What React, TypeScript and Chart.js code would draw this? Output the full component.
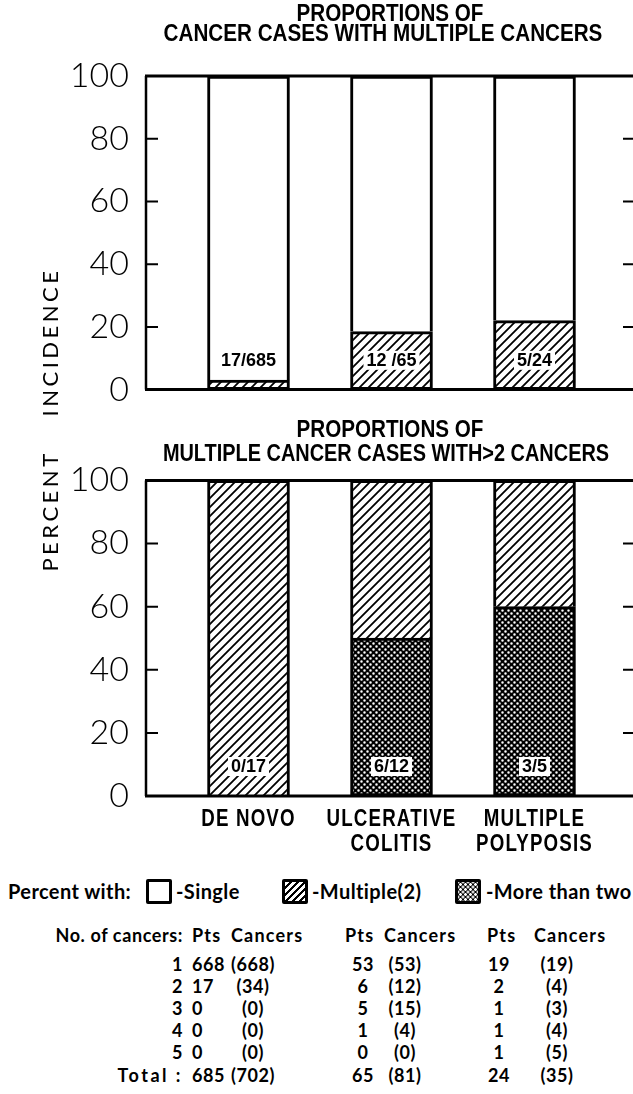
import React, { useEffect, useRef } from "react";
import { Chart, registerables } from "chart.js";

Chart.register(...registerables);

// ---------------- data ----------------
const categories: string[][] = [["DE NOVO"], ["ULCERATIVE", "COLITIS"], ["MULTIPLE", "POLYPOSIS"]];
const yTicks: number[] = [0, 20, 40, 60, 80, 100];

// top panel: % of cancer cases with multiple cancers
const topMultiplePct: number[] = [3, 18.5, 22];
const topSinglePct: number[] = [97, 81.5, 78];
const topRatioLabels: string[] = ["17/685", "12 /65", "5/24"];

// bottom panel: % of multiple cancer cases with > 2 cancers
const bottomMoreThanTwoPct: number[] = [0, 50, 60];
const bottomMultiple2Pct: number[] = [100, 50, 40];
const bottomRatioLabels: string[] = ["0/17", "6/12", "3/5"];

// table
const cancerCounts: string[] = ["1", "2", "3", "4", "5"];
const deNovoPts: number[] = [668, 17, 0, 0, 0];
const deNovoCancers: number[] = [668, 34, 0, 0, 0];
const ucPts: number[] = [53, 6, 5, 1, 0];
const ucCancers: number[] = [53, 12, 15, 4, 0];
const mpPts: number[] = [19, 2, 1, 1, 1];
const mpCancers: number[] = [19, 4, 3, 4, 5];
const totalPts: number[] = [685, 65, 24];
const totalCancers: number[] = [702, 81, 35];

// ---------------- styling ----------------
const SANS = "'Liberation Sans', Arial, sans-serif";
const ROUND = "Lato, 'Noto Sans', sans-serif";

function hatchPattern(ctx: CanvasRenderingContext2D): CanvasPattern {
  const n = 9;
  const c = document.createElement("canvas");
  c.width = n;
  c.height = n;
  const g = c.getContext("2d")!;
  g.fillStyle = "#fff";
  g.fillRect(0, 0, n, n);
  g.strokeStyle = "#000";
  g.lineWidth = 1.8;
  g.beginPath();
  g.moveTo(-2, n + 2);
  g.lineTo(n + 2, -2);
  g.moveTo(-n - 2, n + 2);
  g.lineTo(2, -2);
  g.moveTo(n - 2, n + 2);
  g.lineTo(2 * n + 2, -2);
  g.stroke();
  return ctx.createPattern(c, "repeat")!;
}

function dotPattern(ctx: CanvasRenderingContext2D): CanvasPattern {
  const c = document.createElement("canvas");
  c.width = 6;
  c.height = 6;
  const g = c.getContext("2d")!;
  g.fillStyle = "#000";
  g.fillRect(0, 0, 6, 6);
  g.fillStyle = "#fff";
  g.beginPath();
  g.arc(1.5, 1.5, 1.25, 0, Math.PI * 2);
  g.arc(4.5, 4.5, 1.25, 0, Math.PI * 2);
  g.fill();
  return ctx.createPattern(c, "repeat")!;
}

const framePlugin = {
  id: "frame",
  afterDatasetsDraw(chart: any) {
    const { ctx, chartArea } = chart;
    const y = chart.scales.y;
    const left = chartArea.left - 31;
    const right = chart.width;
    const yTop = y.getPixelForValue(100);
    const yBot = y.getPixelForValue(0);
    ctx.save();
    ctx.strokeStyle = "#000";
    ctx.lineCap = "butt";
    ctx.lineWidth = 3;
    ctx.beginPath();
    ctx.moveTo(left - 1, yTop);
    ctx.lineTo(right, yTop);
    ctx.moveTo(left - 1, yBot);
    ctx.lineTo(right, yBot);
    ctx.stroke();
    ctx.lineWidth = 2.5;
    ctx.beginPath();
    ctx.moveTo(left, yTop);
    ctx.lineTo(left, yBot);
    ctx.stroke();
    ctx.lineWidth = 2;
    ctx.beginPath();
    for (const v of yTicks) {
      if (v === 0 || v === 100) continue;
      const py = y.getPixelForValue(v);
      ctx.moveTo(left, py);
      ctx.lineTo(left + 12, py);
      ctx.moveTo(right - 10, py);
      ctx.lineTo(right, py);
    }
    ctx.stroke();
    ctx.restore();
  },
};

// category labels under the bottom panel, placed by the x scale, drawn condensed
function xLabelPlugin(show: boolean) {
  return {
    id: "xlabels",
    afterDraw(chart: any) {
      if (!show) return;
      const xs = chart.scales.x;
      const { ctx, chartArea } = chart;
      ctx.save();
      ctx.font = `bold 24px ${SANS}`;
      (ctx as any).letterSpacing = "1.5px";
      ctx.textAlign = "center";
      ctx.textBaseline = "middle";
      ctx.fillStyle = "#000";
      categories.forEach((lines, i) => {
        const px = xs.getPixelForTick(i);
        lines.forEach((t, k) => {
          ctx.save();
          ctx.translate(px, chartArea.bottom + 23 + k * 25);
          ctx.scale(0.78, 1);
          ctx.fillText(t, 0, 0);
          ctx.restore();
        });
      });
      ctx.restore();
    },
  };
}

function ratioPlugin(labels: string[], at: number) {
  return {
    id: "ratios",
    afterDatasetsDraw(chart: any) {
      const { ctx } = chart;
      const meta = chart.getDatasetMeta(0);
      const py = chart.scales.y.getPixelForValue(at);
      ctx.save();
      ctx.font = `bold 18px ${SANS}`;
      ctx.textAlign = "center";
      ctx.textBaseline = "middle";
      labels.forEach((t, i) => {
        const px = meta.data[i].x;
        const w = ctx.measureText(t).width;
        ctx.fillStyle = "#fff";
        ctx.fillRect(px - w / 2 - 3, py - 9, w + 6, 19);
        ctx.fillStyle = "#000";
        ctx.fillText(t, px, py + 1);
      });
      ctx.restore();
    },
  };
}

function makeChart(
  canvas: HTMLCanvasElement,
  datasets: any[],
  labels: string[],
  showX: boolean,
  padTop: number,
  xHeight: number
) {
  return new Chart(canvas, {
    type: "bar",
    data: { labels: categories as any, datasets },
    options: {
      animation: false,
      responsive: false,
      maintainAspectRatio: false,
      devicePixelRatio: 1,
      layout: { autoPadding: false, padding: { top: padTop, right: 27, bottom: 0, left: 0 } },
      plugins: { legend: { display: false }, tooltip: { enabled: false }, title: { display: false } },
      scales: {
        x: {
          stacked: true,
          display: true,
          grid: { display: false },
          border: { display: false },
          ticks: { display: false },
          afterFit: (s: any) => {
            s.height = xHeight;
          },
        },
        y: {
          stacked: true,
          min: 0,
          max: 100,
          grid: { display: false },
          border: { display: false },
          afterBuildTicks: (s: any) => {
            s.ticks = yTicks.map((v) => ({ value: v }));
          },
          ticks: {
            color: "#000",
            padding: 40,
            font: { family: ROUND, size: 34, weight: "300" },
          },
          afterFit: (s: any) => {
            s.width = 177;
          },
        },
      },
    } as any,
    plugins: [framePlugin, ratioPlugin(labels, 9.5), xLabelPlugin(showX)],
  });
}

const barBase = {
  borderColor: "#000",
  barThickness: 82,
};

type TxtProps = {
  x: number;
  y: number;
  children: React.ReactNode;
  align?: "left" | "center" | "right";
  size: number;
  family: string;
  weight?: number | string;
  ls?: number;
  rotate?: boolean;
  sx?: number;
};

function Txt({ x, y, children, align = "left", size, family, weight = "normal", ls = 0, rotate = false, sx = 1 }: TxtProps) {
  const tx = align === "center" ? "-50%" : align === "right" ? "-100%" : "0";
  return (
    <div
      style={{
        position: "absolute",
        left: x,
        top: y,
        transform: rotate ? "translate(-50%,-50%) rotate(-90deg)" : `translate(${tx},-50%) scaleX(${sx})`,
        fontSize: size,
        lineHeight: `${size}px`,
        fontFamily: family,
        fontWeight: weight as any,
        letterSpacing: ls,
        whiteSpace: "pre",
        color: "#000",
      }}
    >
      {children}
    </div>
  );
}

const boxStyle: React.CSSProperties = {
  position: "absolute",
  top: 879,
  width: 26,
  height: 25,
  border: "3px solid #000",
  boxSizing: "border-box",
  borderRadius: 2,
  background: "#fff",
};

export default function App() {
  const topRef = useRef<HTMLCanvasElement>(null);
  const botRef = useRef<HTMLCanvasElement>(null);

  useEffect(() => {
    const tc = topRef.current!;
    const bc = botRef.current!;
    const tctx = tc.getContext("2d")!;
    const bctx = bc.getContext("2d")!;
    const top = makeChart(
      tc,
      [
        { ...barBase, label: "Multiple (2)", data: topMultiplePct, backgroundColor: hatchPattern(tctx), borderWidth: 3, borderSkipped: false },
        { ...barBase, label: "Single", data: topSinglePct, backgroundColor: "#fff", borderWidth: 3, borderSkipped: "start" },
      ],
      topRatioLabels,
      false,
      76,
      30
    );
    const bot = makeChart(
      bc,
      [
        { ...barBase, label: "More than two", data: bottomMoreThanTwoPct, backgroundColor: dotPattern(bctx), borderWidth: 3, borderSkipped: false },
        { ...barBase, label: "Multiple (2)", data: bottomMultiple2Pct, backgroundColor: hatchPattern(bctx), borderWidth: 3, borderSkipped: "start" },
      ],
      bottomRatioLabels,
      true,
      60,
      74
    );
    return () => {
      top.destroy();
      bot.destroy();
    };
  }, []);

  const tableRows = cancerCounts.map((n, i) => ({
    n,
    y: 964 + i * 22,
    cells: [deNovoPts[i], deNovoCancers[i], ucPts[i], ucCancers[i], mpPts[i], mpCancers[i]],
  }));
  const colX = [192, 253, 363, 405, 499, 557];
  const tf = { size: 18, family: ROUND, weight: 700, ls: 0.6 };
  const hf = { ...tf, ls: 1.2 };
  const titleF = { size: 24, family: SANS, weight: "bold", sx: 0.86, align: "center" as const };
  const lf = { size: 20, family: ROUND, weight: 700, ls: 0.4 };

  return (
    <div style={{ position: "absolute", left: 0, top: 0, width: 633, height: 1094, background: "#fff", overflow: "hidden" }}>
      <canvas ref={topRef} width={633} height={450} style={{ position: "absolute", left: 0, top: 0, display: "block", width: 633, height: 450 }} />
      <canvas ref={botRef} width={633} height={450} style={{ position: "absolute", left: 0, top: 420, display: "block", width: 633, height: 450 }} />

      <Txt x={390} y={13} {...titleF}>PROPORTIONS OF</Txt>
      <Txt x={383} y={33} {...titleF}>CANCER CASES WITH MULTIPLE CANCERS</Txt>
      <Txt x={390} y={429} {...titleF}>PROPORTIONS OF</Txt>
      <Txt x={386} y={453} {...titleF} sx={0.83}>MULTIPLE CANCER CASES WITH{">"}2 CANCERS</Txt>

      <Txt x={50} y={342} size={22} family={ROUND} ls={3.5} rotate>INCIDENCE</Txt>
      <Txt x={50} y={511} size={22} family={ROUND} ls={3.5} rotate>PERCENT</Txt>

      {/* legend */}
      <Txt x={8} y={891} {...lf}>Percent with:</Txt>
      <div style={{ ...boxStyle, left: 146 }} />
      <Txt x={176} y={891} {...lf}>-Single</Txt>
      <div
        style={{
          ...boxStyle,
          left: 282,
          background: "repeating-linear-gradient(135deg, #fff 0px, #fff 3px, #000 3px, #000 5px)",
        }}
      />
      <Txt x={312} y={891} {...lf}>-Multiple(2)</Txt>
      <div
        style={{
          ...boxStyle,
          left: 455,
          backgroundColor: "#000",
          backgroundImage:
            "radial-gradient(circle, #fff 1.1px, transparent 1.6px), radial-gradient(circle, #fff 1.1px, transparent 1.6px)",
          backgroundSize: "5px 5px, 5px 5px",
          backgroundPosition: "0 0, 2.5px 2.5px",
        }}
      />
      <Txt x={486} y={891} {...lf}>-More than two</Txt>

      {/* table */}
      <Txt x={183} y={935} align="right" {...tf}>No. of cancers:</Txt>
      <Txt x={192} y={935} {...hf}>Pts</Txt>
      <Txt x={231} y={935} {...hf}>Cancers</Txt>
      <Txt x={345} y={935} {...hf}>Pts</Txt>
      <Txt x={384} y={935} {...hf}>Cancers</Txt>
      <Txt x={487} y={935} {...hf}>Pts</Txt>
      <Txt x={534} y={935} {...hf}>Cancers</Txt>
      {tableRows.map((r) => (
        <React.Fragment key={r.n}>
          <Txt x={183} y={r.y} align="right" {...tf}>{r.n}</Txt>
          {r.cells.map((v, j) => (
            <Txt key={j} x={colX[j]} y={r.y} {...tf} align={j === 0 ? "left" : "center"}>
              {j % 2 === 1 ? `(${v})` : `${v}`}
            </Txt>
          ))}
        </React.Fragment>
      ))}
      <Txt x={183} y={1075} align="right" {...tf} ls={2.5}>Total :</Txt>
      {[0, 1, 2].map((k) => (
        <React.Fragment key={k}>
          <Txt x={colX[k * 2]} y={1075} {...tf} align={k === 0 ? "left" : "center"}>{`${totalPts[k]}`}</Txt>
          <Txt x={colX[k * 2 + 1]} y={1075} {...tf} align="center">{`(${totalCancers[k]})`}</Txt>
        </React.Fragment>
      ))}
    </div>
  );
}
